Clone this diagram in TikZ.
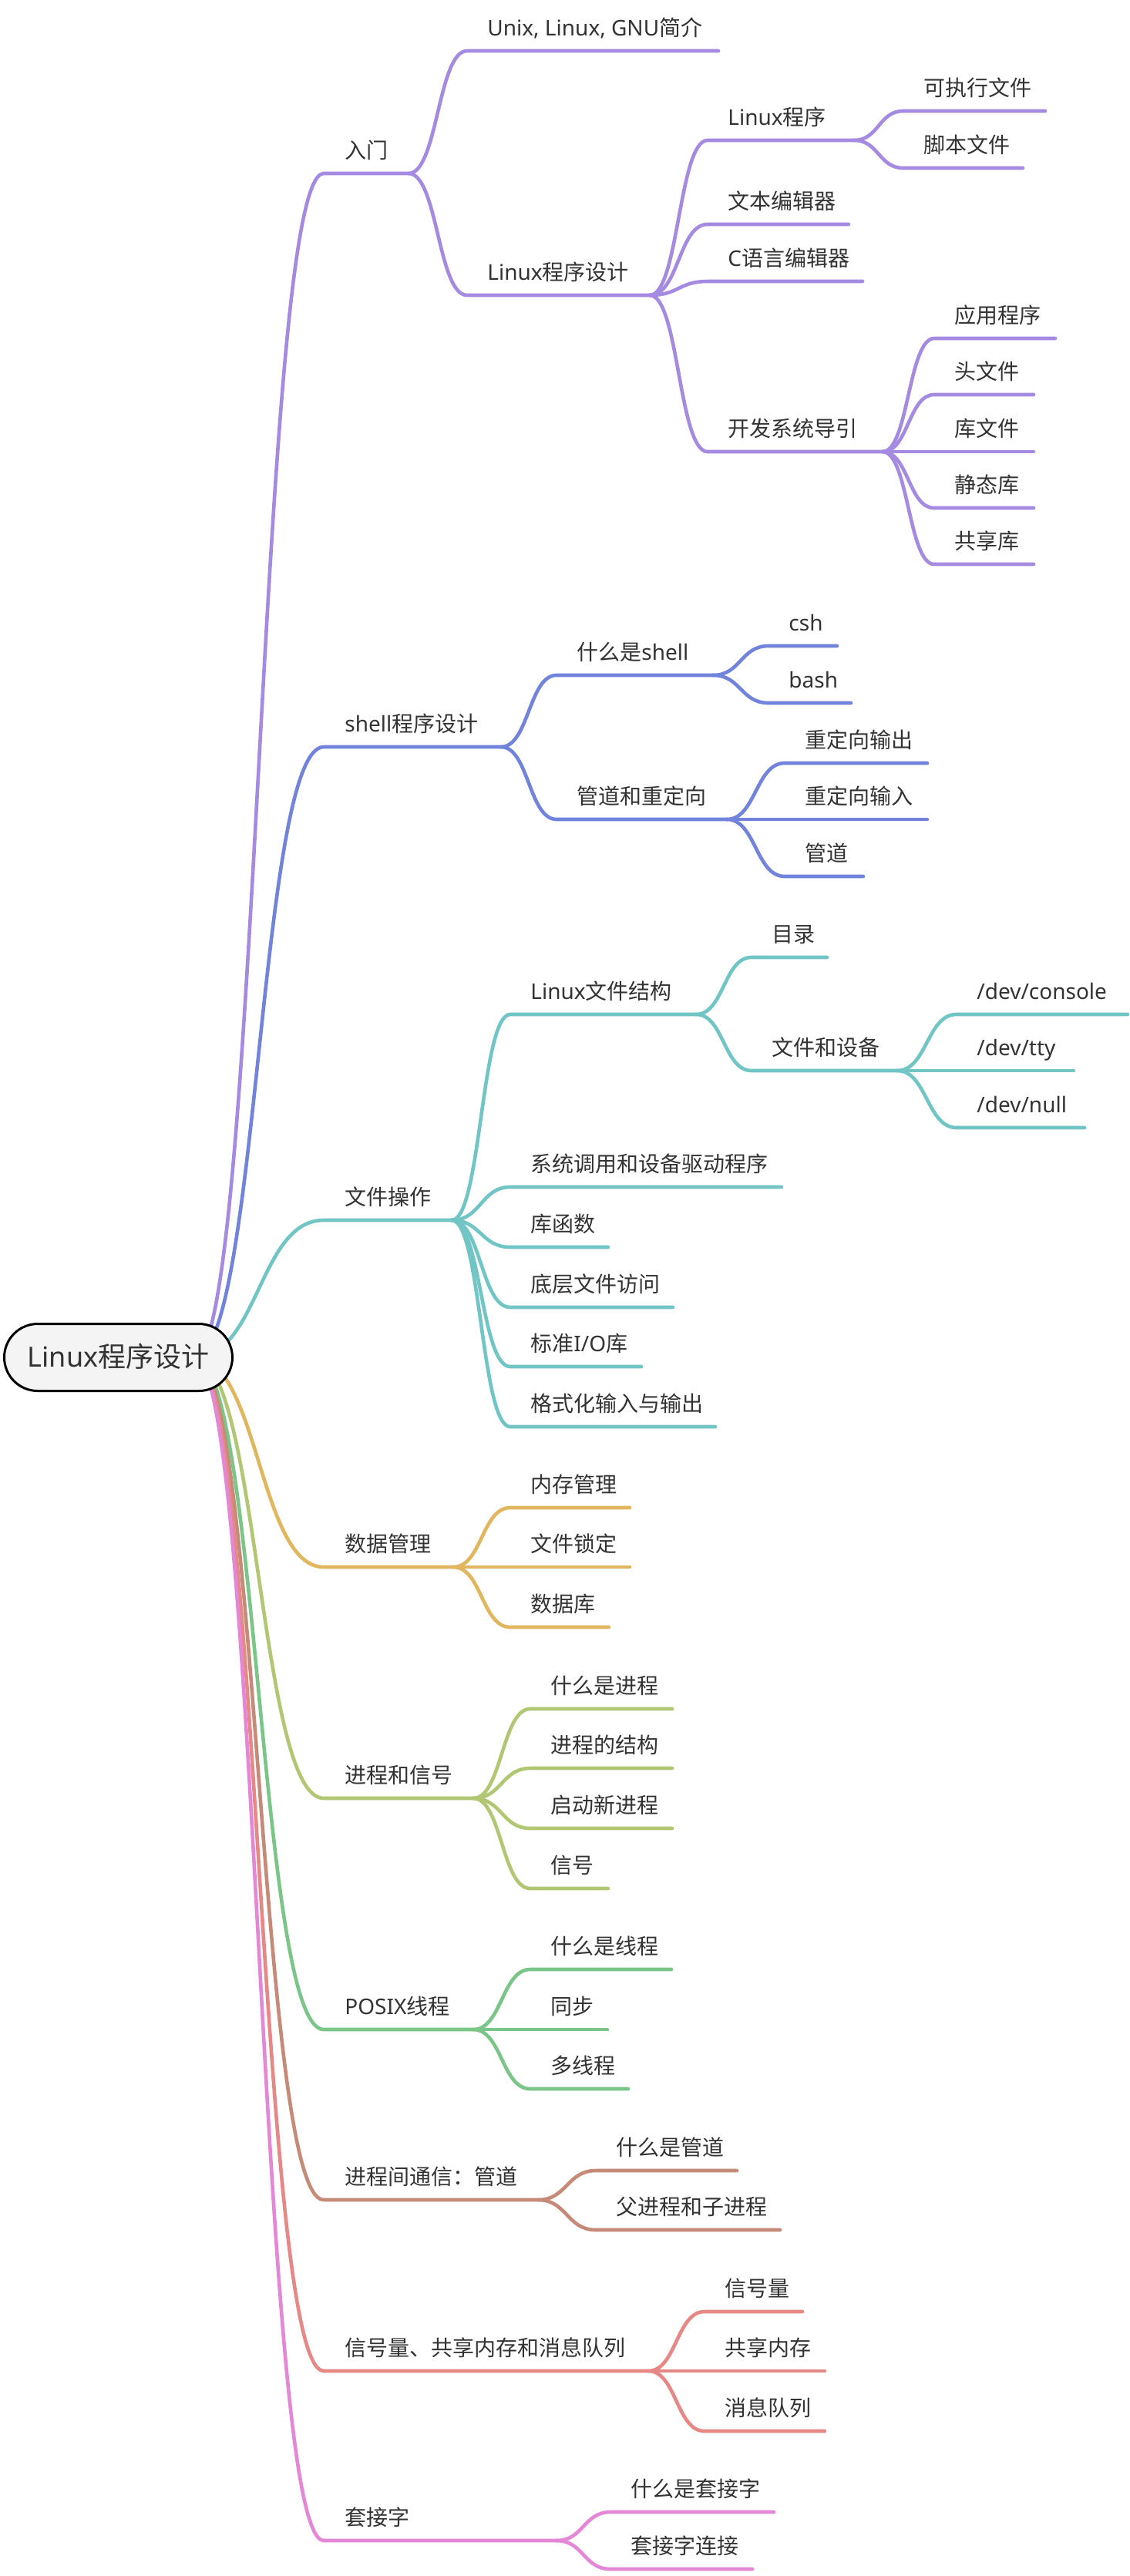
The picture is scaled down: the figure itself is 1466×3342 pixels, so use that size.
\documentclass[tikz,border=0pt]{standalone}
\usepackage{fontspec}
\setmainfont{Noto Sans CJK SC}
\newfontfamily\lat{Noto Sans}
\usetikzlibrary{calc,backgrounds}
\definecolor{cpur}{HTML}{A48BE1}
\definecolor{cblu}{HTML}{7283DB}
\definecolor{ctea}{HTML}{71C5C4}
\definecolor{cgol}{HTML}{E1B65E}
\definecolor{cygr}{HTML}{B2C774}
\definecolor{cgrn}{HTML}{7CC589}
\definecolor{cbrn}{HTML}{C68B78}
\definecolor{csal}{HTML}{E68886}
\definecolor{cpnk}{HTML}{E487D6}
\definecolor{txt}{HTML}{333333}
\definecolor{rootfill}{HTML}{F4F4F4}
\tikzset{
  conn/.style={line width=2.3pt, line cap=round},
  lbl/.style={anchor=base west, inner sep=0pt, font=\fontsize{14pt}{17pt}\selectfont, text=txt},
  rootbox/.style={draw=black, line width=1.5pt, fill=rootfill, rounded corners=21.75pt,
    minimum width=148pt, minimum height=43.5pt, inner sep=0pt, text depth=3pt, text height=15pt,
    font=\fontsize{18pt}{21pt}\selectfont, text=txt}
}
% #1 name, #2 colour, #3 parent end, #4 start x, #5 end x, #6 y, #7 text x, #8 text
\newcommand\mmnode[8]{%
  \coordinate (#1s) at (#4,#6);
  \coordinate (#1e) at (#5,#6);
  \node[lbl] (#1) at (#7,{#6-20}) {#8};
  \begin{scope}[on background layer]
    \draw[conn,draw=#2] let \p1=(#3), \p2=(#1s) in
      (\p1) .. controls ({0.5*\x1+0.5*\x2},\y1) and ({0.5*\x1+0.5*\x2},\y2) .. (\p2) -- (#1e);
  \end{scope}
}
\begin{document}
\begin{tikzpicture}[x=0.5pt,y=-0.5pt]
\begin{scope}[on background layer]
  \fill[white] (0,0) rectangle (1466,3342);
\end{scope}
\useasboundingbox (0,0) rectangle (1466,3342);

\node[rootbox] (root) at (153.5,1761) {{\lat Linux}程序设计};
\coordinate (rs) at ([xshift=49pt]root.center);

% level 1
\mmnode{a}{cpur}{rs}{420}{530}{225}{447}{入门}
\mmnode{b}{cblu}{rs}{420}{650}{969}{447}{{\lat shell}程序设计}
\mmnode{c}{ctea}{rs}{420}{586}{1583}{447}{文件操作}
\mmnode{d}{cgol}{rs}{420}{588}{2033}{447}{数据管理}
\mmnode{e}{cygr}{rs}{420}{614}{2333}{447}{进程和信号}
\mmnode{f}{cgrn}{rs}{420}{614}{2633}{447}{{\lat POSIX}线程}
\mmnode{g}{cbrn}{rs}{420}{698}{2854}{447}{进程间通信：管道}
\mmnode{h}{csal}{rs}{420}{841}{3076}{447}{信号量、共享内存和消息队列}
\mmnode{i}{cpnk}{rs}{420}{722}{3296}{447}{套接字}

% 入门
\mmnode{aa}{cpur}{ae}{606}{932}{66}{632}{{\lat Unix, Linux, GNU}简介}
\mmnode{ab}{cpur}{ae}{606}{843}{383}{632}{{\lat Linux}程序设计}
\mmnode{aba}{cpur}{abe}{918}{1108}{182}{944}{{\lat Linux}程序}
\mmnode{abb}{cpur}{abe}{918}{1101}{291}{944}{文本编辑器}
\mmnode{abc}{cpur}{abe}{918}{1119}{365}{944}{{\lat C}语言编辑器}
\mmnode{abd}{cpur}{abe}{918}{1145}{586}{944}{开发系统导引}
\mmnode{abaa}{cpur}{abae}{1172}{1356}{144}{1198}{可执行文件}
\mmnode{abab}{cpur}{abae}{1172}{1327}{218}{1198}{脚本文件}
\mmnode{abdp}{cpur}{abde}{1212}{1369}{439}{1238}{应用程序}
\mmnode{abdq}{cpur}{abde}{1212}{1341}{512}{1238}{头文件}
\mmnode{abdr}{cpur}{abde}{1212}{1341}{586}{1238}{库文件}
\mmnode{abdt}{cpur}{abde}{1212}{1341}{659}{1238}{静态库}
\mmnode{abdu}{cpur}{abde}{1212}{1341}{732}{1238}{共享库}

% shell
\mmnode{ba}{cblu}{be}{722}{925}{876}{748}{什么是{\lat shell}}
\mmnode{baa}{cblu}{bae}{997}{1086}{838}{1023}{{\lat csh}}
\mmnode{bab}{cblu}{bae}{997}{1104}{912}{1023}{{\lat bash}}
\mmnode{bb}{cblu}{be}{722}{943}{1063}{748}{管道和重定向}
\mmnode{bba}{cblu}{bbe}{1018}{1203}{990}{1044}{重定向输出}
\mmnode{bbb}{cblu}{bbe}{1018}{1203}{1063}{1044}{重定向输入}
\mmnode{bbc}{cblu}{bbe}{1018}{1120}{1137}{1044}{管道}

% 文件操作
\mmnode{ca}{ctea}{ce}{662}{903}{1316}{688}{{\lat Linux}文件结构}
\mmnode{caa}{ctea}{cae}{975}{1073}{1242}{1001}{目录}
\mmnode{cab}{ctea}{cae}{975}{1164}{1389}{1001}{文件和设备}
\mmnode{caba}{ctea}{cabe}{1241}{1463}{1316}{1267}{{\lat /dev/console}}
\mmnode{cabb}{ctea}{cabe}{1241}{1393}{1389}{1267}{{\lat /dev/tty}}
\mmnode{cabc}{ctea}{cabe}{1241}{1407}{1463}{1267}{{\lat /dev/null}}
\mmnode{cb}{ctea}{ce}{662}{1014}{1540}{688}{系统调用和设备驱动程序}
\mmnode{cc}{ctea}{ce}{662}{789}{1618}{688}{库函数}
\mmnode{cd}{ctea}{ce}{662}{873}{1696}{688}{底层文件访问}
\mmnode{cf}{ctea}{ce}{662}{832}{1773}{688}{标准{\lat I/O}库}
\mmnode{cg}{ctea}{ce}{662}{928}{1851}{688}{格式化输入与输出}

% 数据管理
\mmnode{da}{cgol}{de}{662}{817}{1956}{688}{内存管理}
\mmnode{db}{cgol}{de}{662}{817}{2033}{688}{文件锁定}
\mmnode{dc}{cgol}{de}{662}{790}{2111}{688}{数据库}

% 进程和信号
\mmnode{ea}{cygr}{ee}{688}{872}{2217}{714}{什么是进程}
\mmnode{eb}{cygr}{ee}{688}{872}{2294}{714}{进程的结构}
\mmnode{ec}{cygr}{ee}{688}{872}{2372}{714}{启动新进程}
\mmnode{ed}{cygr}{ee}{688}{789}{2450}{714}{信号}

% POSIX线程
\mmnode{fa}{cgrn}{fe}{688}{871}{2555}{714}{什么是线程}
\mmnode{fb}{cgrn}{fe}{688}{788}{2633}{714}{同步}
\mmnode{fc}{cgrn}{fe}{688}{815}{2710}{714}{多线程}

% 进程间通信
\mmnode{ga}{cbrn}{ge}{773}{956}{2816}{799}{什么是管道}
\mmnode{gb}{cbrn}{ge}{773}{1012}{2893}{799}{父进程和子进程}

% 信号量
\mmnode{ha}{csal}{he}{914}{1041}{2999}{940}{信号量}
\mmnode{hb}{csal}{he}{914}{1070}{3076}{940}{共享内存}
\mmnode{hc}{csal}{he}{914}{1070}{3154}{940}{消息队列}

% 套接字
\mmnode{ia}{cpnk}{ie}{792}{1004}{3259}{818}{什么是套接字}
\mmnode{ib}{cpnk}{ie}{792}{976}{3333}{818}{套接字连接}
\end{tikzpicture}
\end{document}
